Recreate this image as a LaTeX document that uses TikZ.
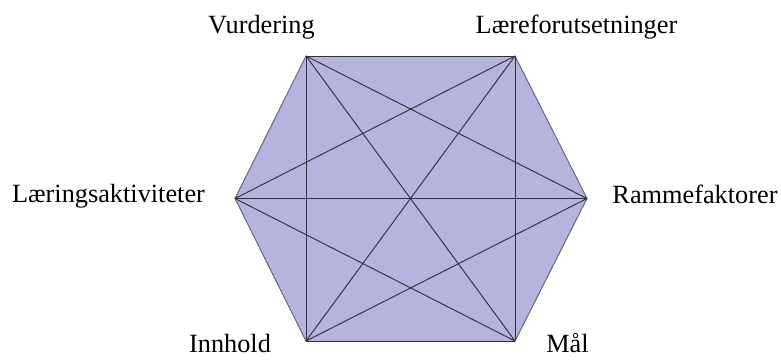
\documentclass[tikz,border=0pt]{standalone}
\usepackage{fontspec}
\setmainfont{Liberation Serif}
\definecolor{hexfill}{RGB}{180,180,221}
\definecolor{inner}{RGB}{50,50,60}
\definecolor{outer}{RGB}{100,100,112}
\tikzset{
  lbl/.style={anchor=base, inner sep=0pt, font=\fontsize{26.3}{30}\selectfont},
  link/.style={draw=inner, line width=0.95pt},
  rim/.style={draw=outer, line width=0.95pt},
}
\begin{document}
\begin{tikzpicture}[x=1pt,y=-1pt]
\useasboundingbox (0,0) rectangle (781,360);
\coordinate (V) at (306,56);
\coordinate (L) at (515,56);
\coordinate (R) at (587,198.5);
\coordinate (M) at (515,341);
\coordinate (I) at (306,341);
\coordinate (A) at (235,198.5);
\fill[hexfill] (V) -- (L) -- (R) -- (M) -- (I) -- (A) -- cycle;
\draw[rim] (L) -- (R) -- (M);
\draw[rim] (I) -- (A) -- (V);
\draw[link] (V) -- (L);
\draw[link] (I) -- (M);
\draw[link] (V) -- (I);
\draw[link] (L) -- (M);
\draw[link] (V) -- (M);
\draw[link] (V) -- (R);
\draw[link] (L) -- (I);
\draw[link] (L) -- (A);
\draw[link] (A) -- (R);
\draw[link] (A) -- (M);
\draw[link] (I) -- (R);
\node[lbl] (tV) at (261.5,33) {Vurdering};
\node[lbl] (tL) at (576.5,33) {Læreforutsetninger};
\node[lbl] (tA) at (108.5,202.5) {Læringsaktiviteter};
\node[lbl] (tR) at (695,203) {Rammefaktorer};
\node[lbl] (tI) at (230,352) {Innhold};
\node[lbl] (tM) at (567.5,352) {Mål};
\end{tikzpicture}
\end{document}
